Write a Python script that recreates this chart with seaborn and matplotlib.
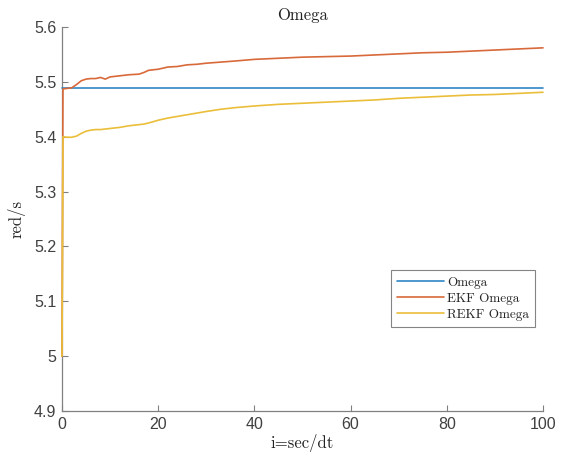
import numpy as np
import pandas as pd
import matplotlib
matplotlib.use("Agg")
import matplotlib.pyplot as plt
import seaborn as sns
from matplotlib.lines import Line2D

# ---- data ----
steps = [0, 0.2, 1, 2, 3, 4, 5, 6, 7, 8, 9, 10, 12, 14, 16, 17, 18, 20, 22, 24,
         26, 28, 30, 33, 36, 40, 45, 50, 55, 60, 65, 70, 75, 80, 85, 90, 95, 100]
omega_true = [5.488] * len(steps)
ekf_omega = [5.0, 5.487, 5.488, 5.489, 5.495, 5.502, 5.505, 5.506, 5.506, 5.508,
             5.505, 5.509, 5.511, 5.513, 5.514, 5.517, 5.521, 5.523, 5.527, 5.528,
             5.531, 5.532, 5.534, 5.536, 5.538, 5.541, 5.543, 5.545, 5.546, 5.547,
             5.549, 5.551, 5.553, 5.554, 5.556, 5.558, 5.560, 5.562]
rekf_omega = [5.0, 5.400, 5.399, 5.399, 5.401, 5.406, 5.410, 5.412, 5.413, 5.413,
              5.414, 5.415, 5.417, 5.420, 5.422, 5.423, 5.425, 5.430, 5.434, 5.437,
              5.440, 5.443, 5.446, 5.450, 5.453, 5.456, 5.459, 5.461, 5.463, 5.465,
              5.467, 5.470, 5.472, 5.474, 5.476, 5.477, 5.479, 5.481]
series_names = ["Omega", "EKF Omega", "REKF Omega"]
x_ticks = [0, 20, 40, 60, 80, 100]
y_ticks = [4.9, 5.0, 5.1, 5.2, 5.3, 5.4, 5.5, 5.6]
y_tick_labels = ["4.9", "5", "5.1", "5.2", "5.3", "5.4", "5.5", "5.6"]

colors = ["#2F86C6", "#D8693A", "#EBBE3A"]

df = pd.concat([
    pd.DataFrame({"i": steps, "val": vals, "series": name})
    for name, vals in zip(series_names, [omega_true, ekf_omega, rekf_omega])
], ignore_index=True)

sns.set_style("white")
plt.rcParams["font.family"] = ["Liberation Sans", "DejaVu Sans"]

fig = plt.figure(figsize=(5.71, 4.59), dpi=100)
ax = fig.add_axes([0.1086, 0.1046, 0.8424, 0.8366])

sns.lineplot(data=df, x="i", y="val", hue="series", hue_order=series_names,
             palette=colors, linewidth=1.2, ax=ax, legend=False, sort=False,
             estimator=None)
for ln in ax.lines:
    ln.set_zorder(3)
    ln.set_clip_on(False)

ax.set_xlim(0, 100)
ax.set_ylim(4.9, 5.6)
ax.set_xticks(x_ticks)
ax.set_xticklabels([str(t) for t in x_ticks])
ax.set_yticks(y_ticks)
ax.set_yticklabels(y_tick_labels)

for s in ["top", "right"]:
    ax.spines[s].set_visible(False)
for s in ["left", "bottom"]:
    ax.spines[s].set_color("#808080")
    ax.spines[s].set_linewidth(0.9)

ax.tick_params(bottom=True, left=True, direction="in", length=4, width=0.8,
               color="#808080", labelsize=11.5, labelcolor="#404040", pad=4)

serif = ["cmr10", "DejaVu Serif"]
ax.set_title("Omega", fontsize=12, family=serif, color="#222222", pad=5)
ax.set_xlabel("i=sec/dt", fontsize=12, family=serif, color="#222222", labelpad=2)
ax.set_ylabel("red/s", fontsize=12, family=serif, color="#222222", labelpad=6)

handles = [Line2D([], [], color=c, linewidth=1.2) for c in colors]
leg = ax.legend(handles, series_names, loc="lower right",
                bbox_to_anchor=(0.983, 0.219), prop={"family": serif, "size": 9.5},
                frameon=True, fancybox=False, handlelength=3.6, handletextpad=0.2,
                borderpad=0.45, labelspacing=0.3, borderaxespad=0)
leg.get_frame().set_edgecolor("#666666")
leg.get_frame().set_linewidth(0.8)

fig.savefig("out.png", dpi=100)
